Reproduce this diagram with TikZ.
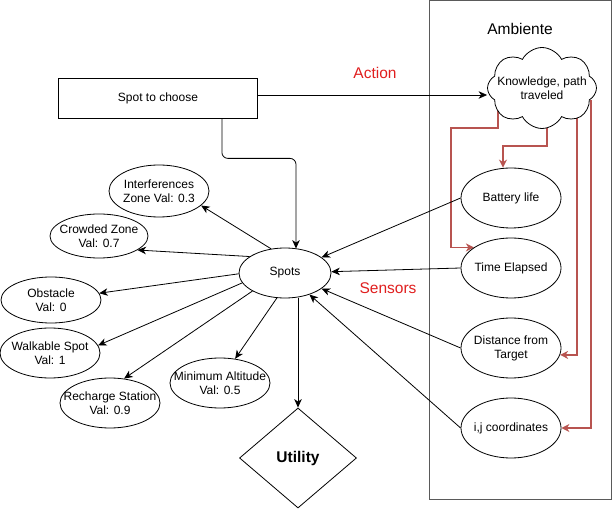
\documentclass[tikz,border=0pt]{standalone}
\usepackage{fontspec}
\setmainfont{Liberation Sans}
\usetikzlibrary{shapes.geometric,shapes.symbols,arrows.meta,calc,backgrounds}
\definecolor{redline}{HTML}{B85450}
\definecolor{redtext}{HTML}{E01E1E}
\definecolor{boxgray}{HTML}{5A5A5A}
\begin{document}
\begin{tikzpicture}[x=1pt,y=-1pt,
  every node/.style={font=\fontsize{12}{14}\selectfont, align=center, inner sep=0pt},
  ell/.style={draw, ellipse, line width=0.8pt, minimum width=100pt, minimum height=50pt, label={center:{#1}}},
  arr/.style={draw, line width=0.8pt, -{Stealth[length=8.5pt,width=7.5pt,inset=2.5pt]}},
  redarr/.style={draw=redline, line width=1.8pt, -{Stealth[length=8pt,width=8pt,inset=2.5pt]}},
  lbl/.style={text=redtext, font=\fontsize{15.5}{18}\selectfont}]
\useasboundingbox (0,0) rectangle (613,510);

% environment box
\node[draw=boxgray, line width=0.9pt, minimum width=182pt, minimum height=499pt] (amb) at (520.5,249.5) {};
\node[font=\fontsize{15.5}{18}\selectfont] (ambt) at (520,29) {Ambiente};

% left side
\node[draw, line width=0.8pt, minimum width=199pt, minimum height=40pt] (choose) at (158,98) {Spot to choose};
\node[ell={Spots}, minimum width=92pt] (spots) at (285,273) {};
\node[ell={Interferences\\Zone Val: 0.3}, minimum height=52pt] (interf) at (159,191) {};
\node[ell={Crowded Zone\\Val: 0.7}, minimum width=98pt, minimum height=44pt] (crowd) at (99,236) {};
\node[ell={Obstacle\\Val: 0}, minimum height=46pt] (obst) at (51,300) {};
\node[ell={Walkable Spot\\Val: 1}] (walk) at (50,353) {};
\node[ell={Recharge Station\\Val: 0.9}] (rech) at (110,403) {};
\node[ell={Minimum Altitude\\Val: 0.5}] (minalt) at (220,383) {};
\node[diamond, draw, line width=0.8pt, minimum width=117pt, minimum height=100pt, font=\bfseries\fontsize{15.5}{18}\selectfont] (utility) at (298,458) {Utility};

% right side
\node[cloud, draw, fill=white, line width=0.8pt, cloud puffs=8, cloud puff arc=125, aspect=1.35, minimum width=109pt, minimum height=81pt, label={center:{Knowledge, path\\traveled}}] (cloud) at (542,88) {};
\node[ell={Battery life}, minimum height=60pt] (battery) at (511,198) {};
\node[ell={Time Elapsed}, minimum height=60pt] (time) at (511,268) {};
\node[ell={Distance from\\Target}, minimum height=60pt] (dist) at (511,348) {};
\node[ell={i,j coordinates}, minimum height=60pt] (coords) at (511,428) {};

% labels
\node[lbl] (action) at (375,73) {Action};
\node[lbl] (sensors) at (388,288) {Sensors};

% red feedback lines
\begin{scope}[on background layer]
  \draw[redarr] (498,100) -- (498,128) -- (451,128) |- (time.151);
  \draw[redarr] (547,100) -- (547,146) -| ([xshift=-8pt]battery.north);
  \draw[redarr] (577,100) |- (dist.-8);
  \draw[redarr] (591,100) |- (coords.east);
\end{scope}

% action arrow
\coordinate (actstart) at ($(choose.east)+(0,-3)$);
\draw[arr] (actstart) -- (actstart -| cloud.west);

% choose to spots
\draw[arr, rounded corners=6pt] ($(choose.south east)+(-36,0)$) -- ++(0,40) -| ($(spots.north)+(11,1)$);

% spots outputs
\draw[arr] (spots.120) -- (interf.-19);
\draw[arr] (spots.155) -- (crowd.-20);
\draw[arr] (spots.181) -- (obst.8);
\draw[arr] (spots.193) -- (walk.9);
\draw[arr] (spots.209) -- (rech.60);
\draw[arr] (spots.252) -- (minalt.58);
\draw[arr] (utility.north |- spots.south) -- (utility.north);

% sensor inputs
\draw[arr] (battery.west) -- (spots);
\draw[arr] (time.west) -- (spots);
\draw[arr] (dist.west) -- (spots);
\draw[arr] (coords.west) -- (spots);
\end{tikzpicture}
\end{document}
